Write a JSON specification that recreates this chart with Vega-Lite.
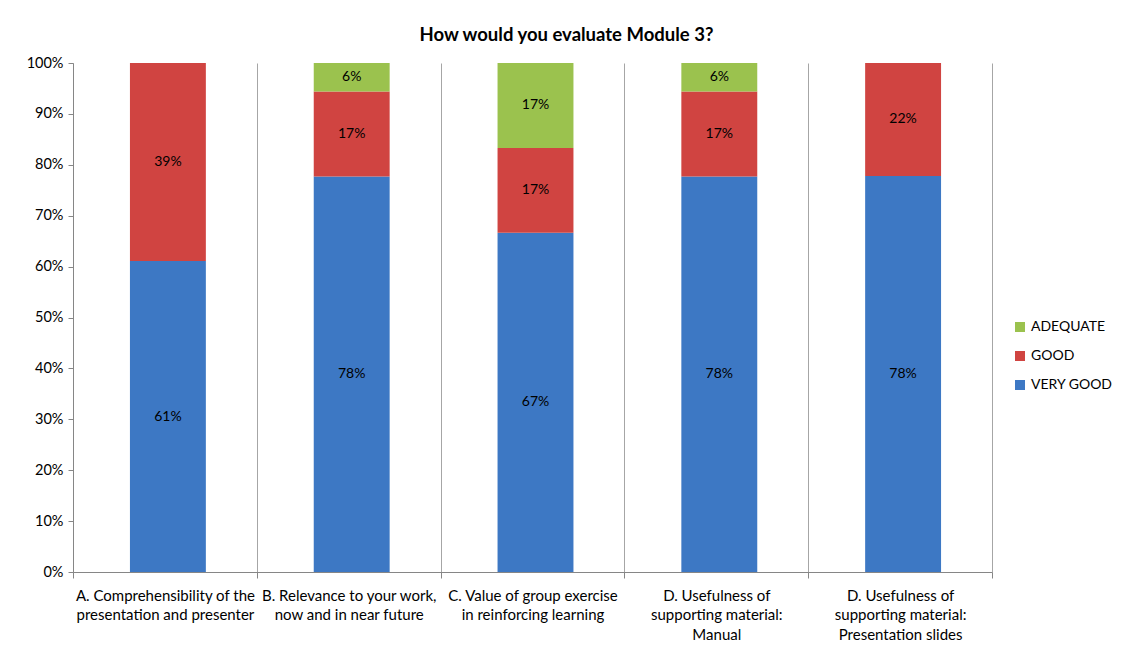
{
  "$schema": "https://vega.github.io/schema/vega-lite/v6.json",
  "autosize": {"type": "none"},
  "width": 919,
  "height": 509,
  "padding": {"left": 73, "top": 63, "right": 129, "bottom": 85},
  "background": "white",
  "config": {
    "font": "Lato",
    "view": {"stroke": null},
    "axis": {"labelFont": "Lato", "labelColor": "#000000", "labelFontSize": 14.5, "domainColor": "#868686", "tickColor": "#868686", "titleFont": "Lato"},
    "legend": {"labelFont": "Lato"}
  },
  "title": {
    "text": "How would you evaluate Module 3?",
    "font": "Lato",
    "fontSize": 18.5,
    "fontWeight": "bold",
    "color": "#000000",
    "anchor": "middle",
    "frame": "group",
    "dx": 34,
    "offset": 11
  },
  "data": {
    "values": [
      {"question": "A. Comprehensibility of the\npresentation and presenter", "level": "VERY GOOD", "pct": 0.611},
      {"question": "A. Comprehensibility of the\npresentation and presenter", "level": "GOOD", "pct": 0.389},
      {"question": "B. Relevance to your work,\nnow and in near future", "level": "VERY GOOD", "pct": 0.778},
      {"question": "B. Relevance to your work,\nnow and in near future", "level": "GOOD", "pct": 0.167},
      {"question": "B. Relevance to your work,\nnow and in near future", "level": "ADEQUATE", "pct": 0.056},
      {"question": "C. Value of group exercise\nin reinforcing learning", "level": "VERY GOOD", "pct": 0.667},
      {"question": "C. Value of group exercise\nin reinforcing learning", "level": "GOOD", "pct": 0.167},
      {"question": "C. Value of group exercise\nin reinforcing learning", "level": "ADEQUATE", "pct": 0.167},
      {"question": "D. Usefulness of\nsupporting material:\nManual", "level": "VERY GOOD", "pct": 0.778},
      {"question": "D. Usefulness of\nsupporting material:\nManual", "level": "GOOD", "pct": 0.167},
      {"question": "D. Usefulness of\nsupporting material:\nManual", "level": "ADEQUATE", "pct": 0.056},
      {"question": "D. Usefulness of\nsupporting material:\nPresentation slides", "level": "VERY GOOD", "pct": 0.778},
      {"question": "D. Usefulness of\nsupporting material:\nPresentation slides", "level": "GOOD", "pct": 0.222}
    ]
  },
  "transform": [
    {"stack": "pct", "groupby": ["question"], "sort": [{"field": "level", "order": "descending"}], "offset": "normalize", "as": ["v0", "v1"]}
  ],
  "encoding": {
    "x": {
      "field": "question",
      "type": "nominal",
      "sort": null,
      "scale": {"paddingInner": 0, "paddingOuter": 0},
      "axis": {
        "title": null,
        "labelAngle": 0,
        "labelExpr": "split(datum.label, '\\n')",
        "labelBaseline": "top",
        "labelFontSize": 15,
        "labelPadding": 10,
        "labelLineHeight": 19.5,
        "labelLimit": 0,
        "labelOverlap": false,
        "labelBound": false,
        "tickBand": "extent",
        "tickSize": 6,
        "grid": true,
        "gridColor": "#a6a6a6",
        "gridWidth": 1
      }
    }
  },
  "layer": [
    {
      "mark": {"type": "bar", "width": {"band": 0.413}, "xOffset": 3},
      "encoding": {
        "y": {
          "field": "v1",
          "type": "quantitative",
          "scale": {"domain": [0, 1], "nice": false},
          "axis": {
            "title": null,
            "format": ".0%",
            "values": [0, 0.1, 0.2, 0.3, 0.4, 0.5, 0.6, 0.7, 0.8, 0.9, 1],
            "grid": false,
            "tickSize": 5,
            "labelPadding": 5
          }
        },
        "y2": {"field": "v0"},
        "color": {
          "field": "level",
          "type": "nominal",
          "scale": {"domain": ["ADEQUATE", "GOOD", "VERY GOOD"], "range": ["#9BC24E", "#D04441", "#3D78C4"]},
          "legend": {
            "title": null,
            "orient": "none",
            "legendX": 940,
            "legendY": 257,
            "symbolType": "square",
            "symbolSize": 100,
            "symbolStrokeWidth": 0,
            "labelFontSize": 14,
            "labelColor": "#000000",
            "rowPadding": 15,
            "labelOffset": 4
          }
        }
      }
    },
    {
      "transform": [{"calculate": "(datum.v0 + datum.v1) / 2", "as": "mid"}],
      "mark": {"type": "text", "fontSize": 14, "color": "#000000", "font": "Lato", "xOffset": 3},
      "encoding": {
        "y": {"field": "mid", "type": "quantitative"},
        "text": {"field": "pct", "type": "quantitative", "format": ".0%"}
      }
    }
  ]
}
